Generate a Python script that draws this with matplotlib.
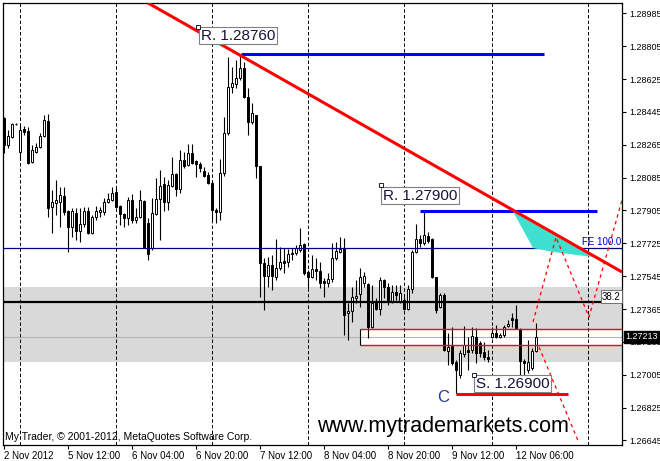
import matplotlib
matplotlib.use('Agg')
import matplotlib.pyplot as plt
from matplotlib.patches import Rectangle, Polygon
import matplotlib.transforms as mtransforms
import numpy as np

plt.rcParams['font.family'] = ['Liberation Sans', 'DejaVu Sans']
plt.rcParams['lines.scale_dashes'] = False

# ---------------- data (H1 candles) ----------------
opens = [1.28411, 1.28263, 1.28307, 1.28378, 1.28225, 1.28351, 1.28340, 1.28170, 1.28225, 1.28252,
         1.28313, 1.28395, 1.27924, 1.27946, 1.27951, 1.27984, 1.27902, 1.27814, 1.27891, 1.27792,
         1.27830, 1.27902, 1.27781, 1.27869, 1.27896, 1.27896, 1.27951, 1.27962, 1.28006, 1.27929,
         1.27885, 1.27863, 1.27962, 1.27852, 1.27869, 1.27957, 1.27836, 1.27699, 1.27885, 1.27967,
         1.28050, 1.27951, 1.28039, 1.28104, 1.28022, 1.28181, 1.28154, 1.28220, 1.28176, 1.28159,
         1.28121, 1.28099, 1.28055, 1.27907, 1.27896, 1.28110, 1.28329, 1.28581, 1.28598, 1.28631,
         1.28685, 1.28526, 1.28389, 1.28428, 1.28148, 1.27617, 1.27546, 1.27606, 1.27540, 1.27589,
         1.27628, 1.27622, 1.27666, 1.27672, 1.27688, 1.27721, 1.27567, 1.27540, 1.27584, 1.27573,
         1.27518, 1.27507, 1.27529, 1.27644, 1.27677, 1.27699, 1.27343, 1.27354, 1.27425, 1.27447,
         1.27507, 1.27502, 1.27266, 1.27403, 1.27365, 1.27524, 1.27485, 1.27403, 1.27458, 1.27403,
         1.27414, 1.27365, 1.27474, 1.27677, 1.27748, 1.27726, 1.27765, 1.27748, 1.27540, 1.27376,
         1.27441, 1.27135, 1.27162, 1.27074, 1.27003, 1.27118, 1.27140, 1.27140, 1.27211, 1.27178,
         1.27129, 1.27102, 1.27211, 1.27233, 1.27211, 1.27222, 1.27272, 1.27315, 1.27310, 1.27255,
         1.27080, 1.27030, 1.27041, 1.27135]
highs = [1.28417, 1.28346, 1.28384, 1.28384, 1.28373, 1.28368, 1.28362, 1.28263, 1.28274, 1.28329,
         1.28428, 1.28433, 1.28017, 1.28072, 1.28033, 1.28033, 1.27907, 1.27918, 1.27918, 1.27918,
         1.27924, 1.27924, 1.27880, 1.27929, 1.27924, 1.27973, 1.28000, 1.28033, 1.28033, 1.27935,
         1.27891, 1.27978, 1.27995, 1.27918, 1.28017, 1.27962, 1.27863, 1.27973, 1.28083, 1.28126,
         1.28088, 1.28072, 1.28198, 1.28110, 1.28236, 1.28225, 1.28269, 1.28269, 1.28181, 1.28170,
         1.28143, 1.28115, 1.28072, 1.27918, 1.28187, 1.28417, 1.28746, 1.28691, 1.28729, 1.28760,
         1.28718, 1.28576, 1.28494, 1.28428, 1.28148, 1.27644, 1.27650, 1.27661, 1.27748, 1.27704,
         1.27699, 1.27693, 1.27699, 1.27715, 1.27809, 1.27726, 1.27578, 1.27661, 1.27644, 1.27622,
         1.27535, 1.27562, 1.27726, 1.27732, 1.27759, 1.27754, 1.27398, 1.27485, 1.27524, 1.27589,
         1.27567, 1.27507, 1.27496, 1.27425, 1.27540, 1.27529, 1.27507, 1.27496, 1.27496, 1.27496,
         1.27430, 1.27496, 1.27688, 1.27830, 1.27770, 1.27896, 1.27787, 1.27754, 1.27540, 1.27452,
         1.27452, 1.27233, 1.27266, 1.27085, 1.27140, 1.27272, 1.27211, 1.27266, 1.27261, 1.27189,
         1.27184, 1.27140, 1.27266, 1.27277, 1.27233, 1.27277, 1.27304, 1.27343, 1.27387, 1.27261,
         1.27091, 1.27195, 1.27151, 1.27288]
lows = [1.28220, 1.28247, 1.28302, 1.28373, 1.28181, 1.28318, 1.28159, 1.28165, 1.28220, 1.28247,
        1.28307, 1.27869, 1.27781, 1.27880, 1.27814, 1.27880, 1.27677, 1.27759, 1.27743, 1.27732,
        1.27814, 1.27776, 1.27776, 1.27852, 1.27869, 1.27880, 1.27946, 1.27957, 1.27918, 1.27825,
        1.27814, 1.27825, 1.27836, 1.27836, 1.27863, 1.27699, 1.27633, 1.27688, 1.27880, 1.27743,
        1.27902, 1.27907, 1.28033, 1.27984, 1.28000, 1.28137, 1.28148, 1.28159, 1.28088, 1.28115,
        1.28088, 1.28050, 1.27852, 1.27836, 1.27852, 1.28094, 1.28318, 1.28548, 1.28576, 1.28620,
        1.28521, 1.28318, 1.28378, 1.28083, 1.27430, 1.27359, 1.27485, 1.27469, 1.27524, 1.27578,
        1.27562, 1.27595, 1.27633, 1.27661, 1.27677, 1.27551, 1.27480, 1.27535, 1.27524, 1.27480,
        1.27430, 1.27485, 1.27513, 1.27633, 1.27672, 1.27222, 1.27195, 1.27293, 1.27398, 1.27376,
        1.27485, 1.27206, 1.27261, 1.27359, 1.27332, 1.27425, 1.27387, 1.27398, 1.27414, 1.27398,
        1.27359, 1.27359, 1.27452, 1.27672, 1.27704, 1.27715, 1.27726, 1.27535, 1.27343, 1.27370,
        1.27135, 1.27058, 1.27058, 1.26900, 1.26987, 1.27102, 1.27030, 1.27124, 1.27069, 1.27102,
        1.27085, 1.27074, 1.27206, 1.27206, 1.27206, 1.27211, 1.27266, 1.27266, 1.27255, 1.27003,
        1.26992, 1.27014, 1.27030, 1.27129]
closes = [1.28263, 1.28313, 1.28378, 1.28378, 1.28346, 1.28335, 1.28165, 1.28236, 1.28252, 1.28313,
          1.28400, 1.27918, 1.27951, 1.27962, 1.27989, 1.27896, 1.27814, 1.27902, 1.27792, 1.27830,
          1.27902, 1.27781, 1.27869, 1.27902, 1.27907, 1.27951, 1.27967, 1.28000, 1.27924, 1.27885,
          1.27863, 1.27962, 1.27852, 1.27869, 1.27962, 1.27704, 1.27666, 1.27891, 1.27967, 1.28039,
          1.27951, 1.28044, 1.28104, 1.28022, 1.28181, 1.28148, 1.28220, 1.28165, 1.28159, 1.28137,
          1.28094, 1.28055, 1.27907, 1.27896, 1.28110, 1.28329, 1.28581, 1.28603, 1.28631, 1.28685,
          1.28526, 1.28389, 1.28439, 1.28148, 1.27617, 1.27546, 1.27606, 1.27546, 1.27589, 1.27622,
          1.27617, 1.27666, 1.27672, 1.27699, 1.27715, 1.27562, 1.27540, 1.27584, 1.27573, 1.27507,
          1.27507, 1.27529, 1.27644, 1.27683, 1.27693, 1.27332, 1.27354, 1.27430, 1.27436, 1.27540,
          1.27546, 1.27266, 1.27398, 1.27365, 1.27524, 1.27485, 1.27403, 1.27458, 1.27441, 1.27452,
          1.27365, 1.27474, 1.27677, 1.27748, 1.27726, 1.27770, 1.27737, 1.27540, 1.27359, 1.27441,
          1.27140, 1.27156, 1.27069, 1.27030, 1.27124, 1.27167, 1.27129, 1.27217, 1.27124, 1.27124,
          1.27102, 1.27091, 1.27233, 1.27211, 1.27222, 1.27266, 1.27282, 1.27304, 1.27261, 1.27080,
          1.27069, 1.27074, 1.27135, 1.27213]

date_label_bars = [0, 16, 32, 48, 64, 80, 96, 112, 128]
date_labels = ['2 Nov 2012', '5 Nov 12:00', '6 Nov 04:00', '6 Nov 20:00', '7 Nov 12:00',
               '8 Nov 04:00', '8 Nov 20:00', '9 Nov 12:00', '12 Nov 06:00']
day_start_bars = [4, 28, 52, 76, 100, 122, 146]
price_ticks = [1.26645, 1.26825, 1.27005, 1.27185, 1.27365, 1.27545, 1.27725,
               1.27905, 1.28085, 1.28265, 1.28445, 1.28625, 1.28805, 1.28985]

# analysis objects
trend_x = [36, 154.5]
trend_y = [1.29042, 1.27568]
r1_level, r1_from, r1_to = 1.28760, 59.25, 135
r2_level, r2_from, r2_to = 1.27900, 104, 148.25
s_level, s_from, s_to = 1.26900, 113, 141
fe_level = 1.27699
fib382_level = 1.27405
zone_low, zone_high = 1.27075, 1.27485
box_low, box_high, box_from = 1.27168, 1.27255, 89
last_price = 1.27213
cyan_x = [127.25, 132.25, 137.5, 147.25]
cyan_y = [1.27900, 1.27699, 1.27677, 1.27650]
proj1_x = [132.25, 138, 146.25, 154.5]
proj1_y = [1.27294, 1.27759, 1.27321, 1.27962]
proj2_x = [133.75, 143.75]
proj2_y = [1.27157, 1.26631]

# ---------------- figure ----------------
fig = plt.figure(figsize=(6.6, 4.61), dpi=100)
ax = fig.add_axes([3 / 660, 16 / 461, 619 / 660, 442 / 461])
ax.set_xlim(-0.25, 154.5)
ax.set_ylim(1.26620, 1.29042)

# background zones
ax.axhspan(zone_low, zone_high, color='#d9d9d9', lw=0, zorder=0.5)
ax.add_patch(Rectangle((box_from, box_low), 160 - box_from, box_high - box_low,
                       facecolor='white', edgecolor='none', zorder=0.6))
ax.axhline(last_price, color='#b4b4b4', lw=0.8, zorder=0.7)

# day separators
for b in day_start_bars:
    ax.axvline(b, color='black', lw=0.7, dashes=(2.5, 1.6), zorder=1)

# candles
x = np.arange(len(opens))
o = np.array(opens); h = np.array(highs); l = np.array(lows); c = np.array(closes)
up = c >= o
ax.vlines(x, l, h, color='black', lw=0.8, zorder=3)
ax.bar(x, np.abs(c - o), bottom=np.minimum(o, c), width=0.5,
       color=np.where(up, 'white', 'black'), edgecolor='black', linewidth=0.7, zorder=3.1)

# horizontal objects
ax.hlines([box_high, box_low], box_from, 160, color='red', lw=1.0, zorder=3.5)
ax.vlines(box_from, box_low, box_high, color='black', lw=0.8, zorder=3.5)
ax.axhline(fib382_level, color='black', lw=1.6, zorder=3.6)
ax.axhline(fe_level, color='#000080', lw=0.9, zorder=3.6)
ax.hlines(r1_level, r1_from, r1_to, color='#0000ff', lw=2.2, zorder=4)
ax.hlines(r2_level, r2_from, r2_to, color='#0000ff', lw=2.2, zorder=4)
ax.hlines(s_level, s_from, s_to, color='#ff0000', lw=2.2, zorder=4)

# cyan triangle and trend line
ax.add_patch(Polygon(list(zip(cyan_x, cyan_y)), closed=True, facecolor='#40e0d0',
                     edgecolor='none', zorder=4.2))
ax.plot(trend_x, trend_y, color='#ff0000', lw=2.2, zorder=5, solid_capstyle='butt')

# projections
ax.plot(proj1_x, proj1_y, color='#ff0000', lw=0.9, dashes=(2.5, 2.5), zorder=5)
ax.plot(proj2_x, proj2_y, color='#ff0000', lw=0.9, dashes=(2.5, 2.5), zorder=5)

# labels
box_style = dict(boxstyle='square,pad=0.12', fc='white', ec='#808080', lw=0.8)
ax.text(49.25, 1.28902, 'R. 1.28760', fontsize=11, color='#14143c', va='top', ha='left',
        bbox=box_style, zorder=6)
ax.text(94.75, 1.28025, 'R. 1.27900', fontsize=11, color='#14143c', va='top', ha='left',
        bbox=box_style, zorder=6)
ax.text(118.0, 1.26995, 'S. 1.26900', fontsize=11, color='#14143c', va='top', ha='left',
        bbox=box_style, zorder=6)
ax.plot([48.5, 94.25, 117.5], [1.28910, 1.28044, 1.27003], ls='none', marker='s', ms=2.5,
        mfc='white', mec='black', mew=0.6, zorder=7)
ax.text(109.75, 1.26882, 'C', fontsize=12, color='#283593', ha='center', va='center', zorder=6)
ax.text(154.4, 1.27732, 'FE 100.0', fontsize=7, color='#0000c0', ha='right', va='center', zorder=6)
ax.text(154.2, 1.27433, '38.2', fontsize=7, color='black', ha='right', va='center', zorder=6,
        bbox=dict(boxstyle='square,pad=0.15', fc='white', ec='#606060', lw=0.6))

ax.text(0.004, 0.018, 'My Trader, \u00a9 2001-2012, MetaQuotes Software Corp.', fontsize=7.5,
        transform=ax.transAxes, ha='left', va='center', color='black', zorder=6)
ax.text(0.507, 0.041, 'www.mytrademarkets.com', fontsize=15.5, transform=ax.transAxes,
        ha='left', va='center', color='black', zorder=6)

# current price tag
blend = mtransforms.blended_transform_factory(ax.transAxes, ax.transData)
ax.text(1.0 + 3 / 619, last_price, '1.27213', transform=blend, fontsize=6.5, color='white',
        ha='left', va='center', clip_on=False, zorder=10,
        bbox=dict(boxstyle='square,pad=0.15', fc='black', ec='black'))

# axes styling
ax.yaxis.tick_right()
ax.set_yticks(price_ticks)
ax.set_yticklabels([f'{v:.5f}' for v in price_ticks])
ax.set_xticks(date_label_bars)
ax.set_xticklabels(date_labels, ha='left')
ax.tick_params(axis='y', direction='out', length=3, pad=2, labelsize=6.5, width=0.8)
ax.tick_params(axis='x', direction='out', length=3, pad=1, labelsize=7, width=0.8)
for sp in ax.spines.values():
    sp.set_color('black')
    sp.set_linewidth(0.9)

fig.savefig('out.png', dpi=100)
